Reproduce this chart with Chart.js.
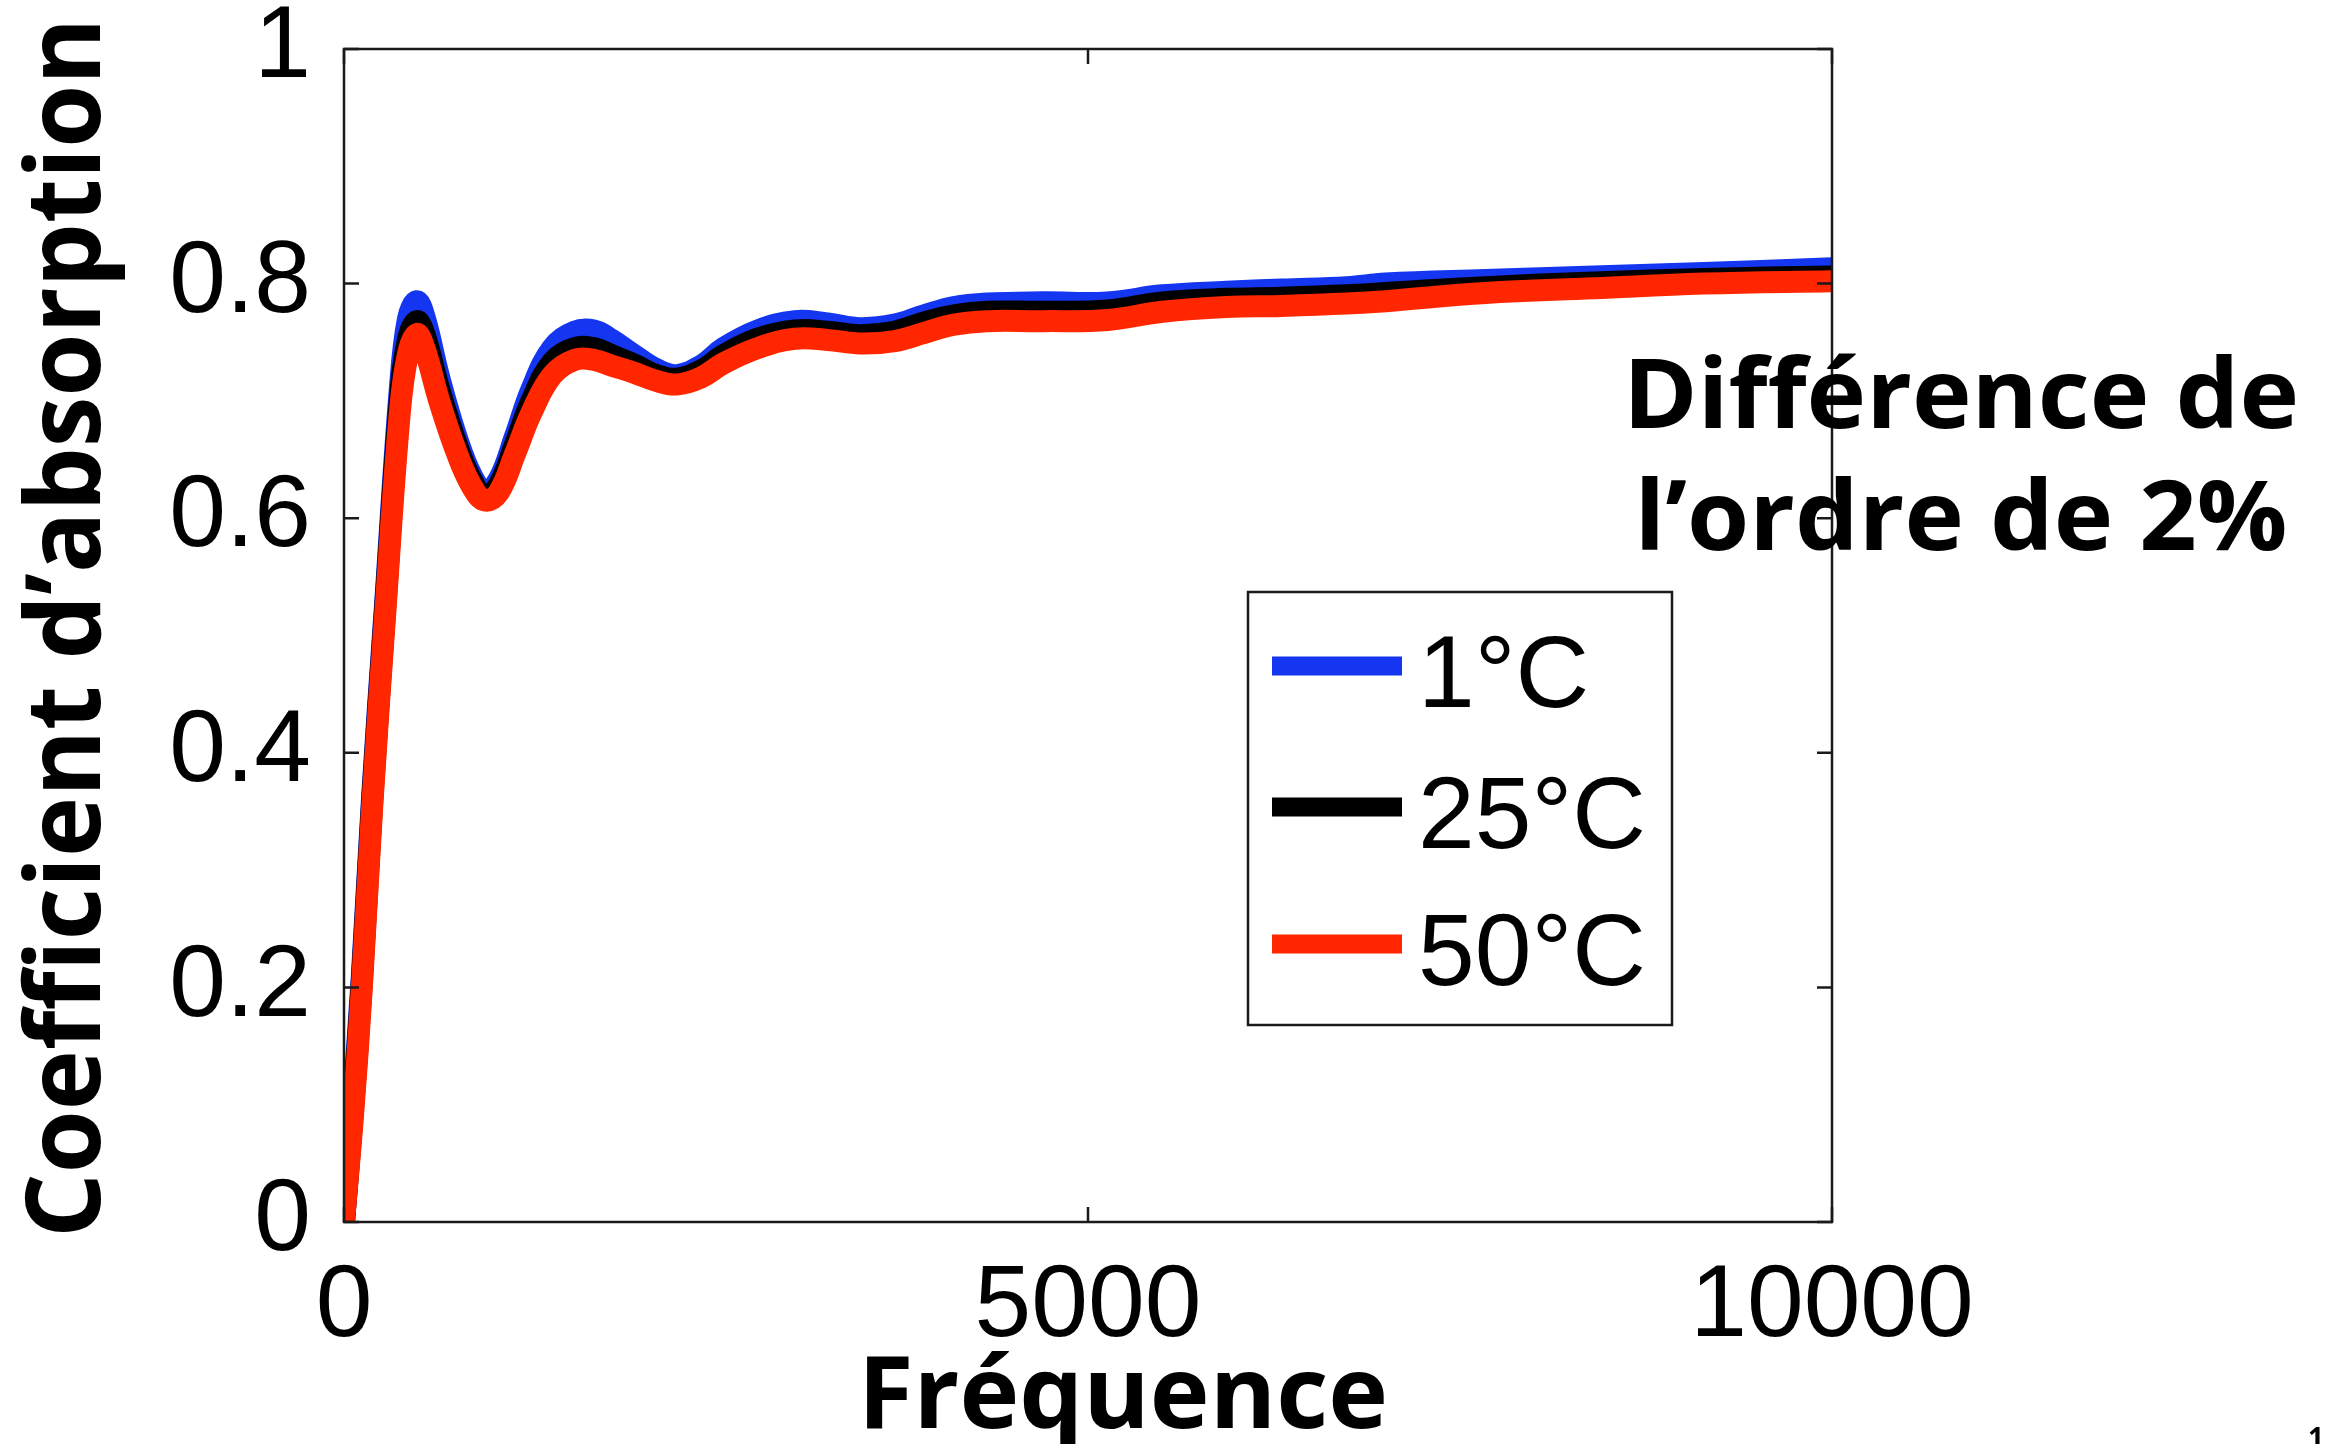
<!DOCTYPE html>
<html>
<head>
<meta charset="utf-8">
<script src="https://cdn.jsdelivr.net/npm/chart.js@4"></script>
<style>
  html, body { margin: 0; padding: 0; background: #fff; }
  canvas { display: block; }
</style>
</head>
<body>
<canvas id="chart" width="2329" height="1444"></canvas>
<script>
// absorption coefficient vs frequency, three temperatures
const freqHz = [0, 60, 120, 190, 275, 375, 430, 489, 540, 640, 760, 860, 948, 1040, 1150, 1260,
  1400, 1550, 1680, 1800, 1950, 2100, 2236, 2400, 2550, 2780, 3030, 3250, 3470, 3700, 3900,
  4100, 4320, 4700, 5130, 5500, 5930, 6300, 6740, 7000, 7670, 8400, 9140, 10000];

const alpha1C = [0, 0.1, 0.21, 0.365, 0.525, 0.71, 0.77, 0.785, 0.772, 0.72, 0.668, 0.636, 0.623,
  0.633, 0.67, 0.71, 0.745, 0.759, 0.76, 0.752, 0.739, 0.727, 0.722, 0.73, 0.745, 0.76, 0.768,
  0.766, 0.762, 0.765, 0.773, 0.78, 0.783, 0.784, 0.784, 0.79, 0.793, 0.795, 0.797, 0.8, 0.803,
  0.806, 0.809, 0.813];

const alpha25C = [0, 0.095, 0.205, 0.36, 0.52, 0.7, 0.752, 0.768, 0.757, 0.71, 0.662, 0.632, 0.619,
  0.628, 0.663, 0.7, 0.733, 0.745, 0.745, 0.739, 0.731, 0.722, 0.719, 0.726, 0.739, 0.753, 0.76,
  0.759, 0.756, 0.759, 0.767, 0.773, 0.776, 0.776, 0.777, 0.784, 0.787, 0.788, 0.79, 0.792, 0.797,
  0.801, 0.804, 0.806];

const alpha50C = [0, 0.09, 0.2, 0.355, 0.515, 0.69, 0.74, 0.757, 0.745, 0.7, 0.655, 0.627, 0.615,
  0.622, 0.655, 0.69, 0.722, 0.735, 0.735, 0.73, 0.724, 0.717, 0.714, 0.72, 0.732, 0.745, 0.753,
  0.752, 0.749, 0.751, 0.758, 0.765, 0.768, 0.768, 0.769, 0.776, 0.78, 0.781, 0.783, 0.785, 0.792,
  0.796, 0.8, 0.802];

const seriesLabels = ['1°C', '25°C', '50°C'];
const seriesColors = ['#1436f0', '#000000', '#ff2600'];
const xTickLabels = ['0', '5000', '10000'];
const yTickLabels = ['0', '0.2', '0.4', '0.6', '0.8', '1'];

const xTitle = 'Fréquence';
const yTitle = 'Coefficient d’absorption';
const noteLines = ['Différence de', 'l’ordre de 2%'];

const TICK_FONT = 'Liberation Sans';
const TITLE_FONT = 'Open Sans';

function toPoints(values) {
  return freqHz.map((f, i) => ({ x: f, y: values[i] }));
}

// bold label squeezed/stretched to a given width
function fitText(ctx, text, x, y, size, width, angle) {
  ctx.save();
  ctx.font = `700 ${size}px "${TITLE_FONT}"`;
  const w = ctx.measureText(text).width;
  ctx.translate(x, y);
  if (angle) ctx.rotate(angle);
  ctx.scale(width / w, 1);
  ctx.textAlign = 'center';
  ctx.textBaseline = 'alphabetic';
  ctx.fillStyle = '#000';
  ctx.fillText(text, 0, 0);
  ctx.restore();
}

const framePlugin = {
  id: 'frame',
  afterDatasetsDraw(chart) {
    const { ctx, chartArea: a, scales: { x, y } } = chart;
    const tick = 15;
    ctx.save();
    ctx.strokeStyle = '#1a1a1a';
    ctx.lineWidth = 2.5;
    ctx.strokeRect(a.left, a.top, a.right - a.left, a.bottom - a.top);
    ctx.beginPath();
    x.ticks.forEach(t => {
      const px = x.getPixelForValue(t.value);
      ctx.moveTo(px, a.bottom); ctx.lineTo(px, a.bottom - tick);
      ctx.moveTo(px, a.top); ctx.lineTo(px, a.top + tick);
    });
    y.ticks.forEach(t => {
      const py = y.getPixelForValue(t.value);
      ctx.moveTo(a.left, py); ctx.lineTo(a.left + tick, py);
      ctx.moveTo(a.right, py); ctx.lineTo(a.right - tick, py);
    });
    ctx.stroke();
    ctx.restore();
  },
  afterDraw(chart) {
    const { ctx } = chart;

    // legend box
    ctx.save();
    ctx.fillStyle = '#fff';
    ctx.fillRect(1248, 592, 424, 433);
    ctx.strokeStyle = '#1a1a1a';
    ctx.lineWidth = 2.5;
    ctx.strokeRect(1248, 592, 424, 433);
    const rows = [666, 807, 944];
    seriesLabels.forEach((label, i) => {
      ctx.fillStyle = seriesColors[i];
      ctx.fillRect(1272, rows[i] - 9.5, 130, 19);
      ctx.fillStyle = '#000';
      ctx.font = `102px "${TICK_FONT}"`;
      ctx.textAlign = 'left';
      ctx.textBaseline = 'alphabetic';
      ctx.fillText(label, 1418, rows[i] + 41);
    });
    ctx.restore();

    // axis titles
    fitText(ctx, xTitle, 1123, 1428, 100, 530);
    fitText(ctx, yTitle, 100, 628, 104, 1220, -Math.PI / 2);

    // note on the right
    fitText(ctx, noteLines[0], 1961, 428, 96, 676);
    fitText(ctx, noteLines[1], 1961, 550, 96, 653);

    // page number
    ctx.save();
    ctx.font = `700 28px "${TITLE_FONT}"`;
    ctx.fillStyle = '#000';
    ctx.textAlign = 'left';
    ctx.fillText('1', 2308, 1448);
    ctx.restore();
  }
};

const datasets = [alpha1C, alpha25C, alpha50C].map((vals, i) => ({
  label: seriesLabels[i],
  data: toPoints(vals),
  borderColor: seriesColors[i],
  backgroundColor: seriesColors[i],
  borderWidth: 22,
  pointRadius: 0,
  tension: 0.4,
  borderJoinStyle: 'round',
  clip: 0,
  order: 3 - i   // red on top, blue underneath
}));

new Chart(document.getElementById('chart'), {
  type: 'line',
  data: { datasets },
  options: {
    responsive: false,
    devicePixelRatio: 1,
    animation: false,
    layout: { padding: { left: 0, top: 49, right: 497, bottom: 0 } },
    plugins: { legend: { display: false }, tooltip: { enabled: false } },
    scales: {
      x: {
        type: 'linear',
        min: 0,
        max: 10000,
        grid: { display: false },
        border: { display: false },
        ticks: {
          stepSize: 5000,
          padding: 17,
          color: '#000',
          maxRotation: 0,
          font: { family: TICK_FONT, size: 102 },
          callback: (v, i) => xTickLabels[i]
        },
        afterFit(scale) {
          scale.height = 222;
          scale.paddingLeft = 0;
          scale.paddingRight = 0;
        }
      },
      y: {
        type: 'linear',
        min: 0,
        max: 1,
        grid: { display: false },
        border: { display: false },
        ticks: {
          stepSize: 0.2,
          padding: 25,
          color: '#000',
          font: { family: TICK_FONT, size: 102 },
          callback: (v, i) => yTickLabels[i]
        },
        afterFit(scale) {
          scale.width = 344;
          scale.paddingTop = 0;
          scale.paddingBottom = 0;
        }
      }
    }
  },
  plugins: [framePlugin]
});
</script>
</body>
</html>
